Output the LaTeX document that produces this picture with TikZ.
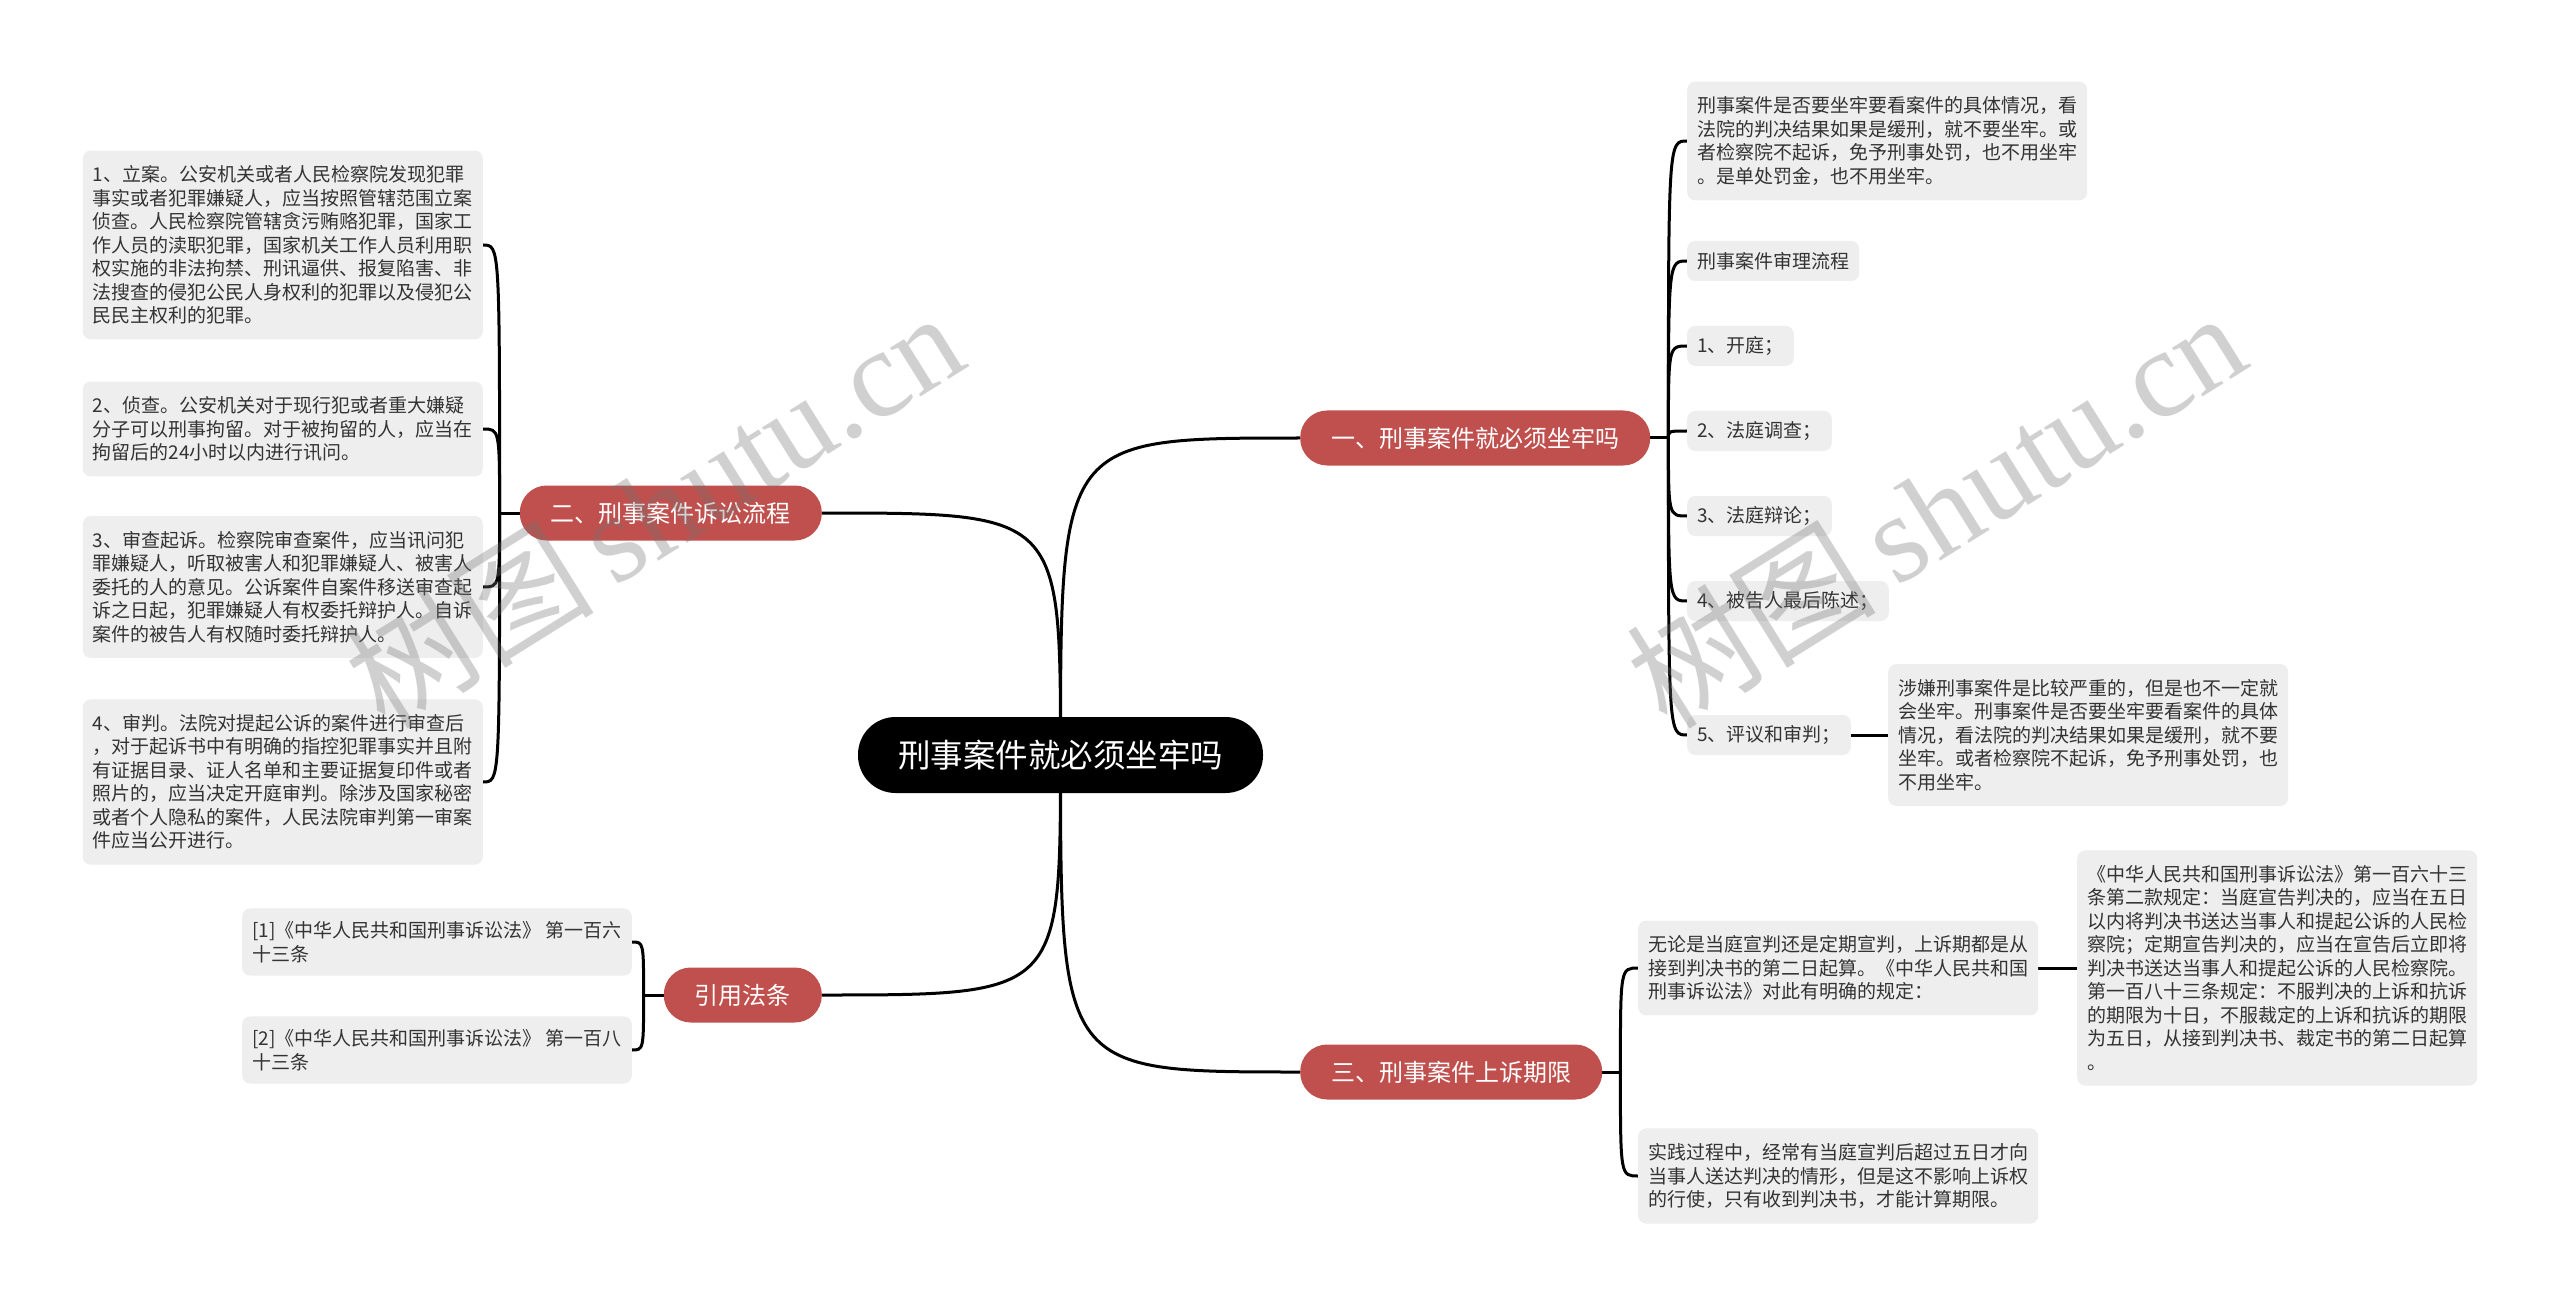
\documentclass[tikz,border=0pt]{standalone}
\usepackage{fontspec}
\setmainfont{Noto Sans CJK SC}
\newfontfamily\wmserif{Liberation Serif}
\usetikzlibrary{calc}
\pgfdeclarelayer{background}
\pgfdeclarelayer{foreground}
\pgfsetlayers{background,main,foreground}
\definecolor{branchred}{HTML}{C0504D}
\definecolor{leafgrey}{HTML}{EEEEEE}
\definecolor{leaftext}{HTML}{333333}
\tikzset{
  rootnode/.style={fill=black, text=white, rounded corners=37.5pt, minimum height=76pt,
    inner xsep=40pt, inner ysep=0pt, font=\fontsize{32.5}{38}\selectfont},
  branchnode/.style={fill=branchred, text=white, rounded corners=27pt, minimum height=55pt,
    inner xsep=31pt, inner ysep=0pt, font=\fontsize{24}{28}\selectfont},
  leafnode/.style={fill=leafgrey, text=leaftext, rounded corners=8pt, align=left,
    inner xsep=10pt, inner ysep=15pt, font=\fontsize{19}{23.5}\selectfont},
  leafone/.style={leafnode, inner ysep=0pt, minimum height=40pt},
  link/.style={draw=black, line width=3pt},
  wm/.style={text=black!55, opacity=0.33, font=\fontsize{125}{130}\selectfont}
}
\begin{document}
\begin{tikzpicture}[x=1pt,y=-1pt]
\useasboundingbox (0,0) rectangle (2560,1305);

% root and branches
\node[rootnode] (root) at (1060.5,755) {刑事案件就必须坐牢吗};
\node[branchnode, anchor=west] (b1) at (1300,438) {一、刑事案件就必须坐牢吗};
\node[branchnode, anchor=east] (b2) at (822,513) {二、刑事案件诉讼流程};
\node[branchnode, anchor=west] (b3) at (1300,1072) {三、刑事案件上诉期限};
\node[branchnode, anchor=east] (b4) at (822,995) {引用法条};

% branch 1 leaves
\node[leafnode, anchor=west] (r1) at (1687,141) {刑事案件是否要坐牢要看案件的具体情况，看\\法院的判决结果如果是缓刑，就不要坐牢。或\\者检察院不起诉，免予刑事处罚，也不用坐牢\\。是单处罚金，也不用坐牢。};
\node[leafone, anchor=west] (r2) at (1687,261) {刑事案件审理流程};
\node[leafone, anchor=west] (r3) at (1687,346) {1、开庭；};
\node[leafone, anchor=west] (r4) at (1687,431) {2、法庭调查；};
\node[leafone, anchor=west] (r5) at (1687,516) {3、法庭辩论；};
\node[leafone, anchor=west] (r6) at (1687,601) {4、被告人最后陈述；};
\node[leafone, anchor=west] (r7) at (1687,735) {5、评议和审判；};
\node[leafnode, anchor=west] (r8) at (1888,735) {涉嫌刑事案件是比较严重的，但是也不一定就\\会坐牢。刑事案件是否要坐牢要看案件的具体\\情况，看法院的判决结果如果是缓刑，就不要\\坐牢。或者检察院不起诉，免予刑事处罚，也\\不用坐牢。};

% branch 2 leaves
\node[leafnode, anchor=east] (l1) at (483,245) {1、立案。公安机关或者人民检察院发现犯罪\\事实或者犯罪嫌疑人，应当按照管辖范围立案\\侦查。人民检察院管辖贪污贿赂犯罪，国家工\\作人员的渎职犯罪，国家机关工作人员利用职\\权实施的非法拘禁、刑讯逼供、报复陷害、非\\法搜查的侵犯公民人身权利的犯罪以及侵犯公\\民民主权利的犯罪。};
\node[leafnode, anchor=east] (l2) at (483,429) {2、侦查。公安机关对于现行犯或者重大嫌疑\\分子可以刑事拘留。对于被拘留的人，应当在\\拘留后的24小时以内进行讯问。};
\node[leafnode, anchor=east] (l3) at (483,587) {3、审查起诉。检察院审查案件，应当讯问犯\\罪嫌疑人，听取被害人和犯罪嫌疑人、被害人\\委托的人的意见。公诉案件自案件移送审查起\\诉之日起，犯罪嫌疑人有权委托辩护人。自诉\\案件的被告人有权随时委托辩护人。};
\node[leafnode, anchor=east] (l4) at (483,782) {4、审判。法院对提起公诉的案件进行审查后\\，对于起诉书中有明确的指控犯罪事实并且附\\有证据目录、证人名单和主要证据复印件或者\\照片的，应当决定开庭审判。除涉及国家秘密\\或者个人隐私的案件，人民法院审判第一审案\\件应当公开进行。};

% branch 3 leaves
\node[leafnode, anchor=west] (t1) at (1638,968) {无论是当庭宣判还是定期宣判，上诉期都是从\\接到判决书的第二日起算。《中华人民共和国\\刑事诉讼法》对此有明确的规定：};
\node[leafnode, anchor=west] (t2) at (1638,1176) {实践过程中，经常有当庭宣判后超过五日才向\\当事人送达判决的情形，但是这不影响上诉权\\的行使，只有收到判决书，才能计算期限。};
\node[leafnode, anchor=west] (t3) at (2077,968) {《中华人民共和国刑事诉讼法》第一百六十三\\条第二款规定：当庭宣告判决的，应当在五日\\以内将判决书送达当事人和提起公诉的人民检\\察院；定期宣告判决的，应当在宣告后立即将\\判决书送达当事人和提起公诉的人民检察院。\\第一百八十三条规定：不服判决的上诉和抗诉\\的期限为十日，不服裁定的上诉和抗诉的期限\\为五日，从接到判决书、裁定书的第二日起算\\。};

% citations
\node[leafnode, anchor=east, inner ysep=13pt] (c1) at (632,942) {[1]《中华人民共和国刑事诉讼法》 第一百六\\十三条};
\node[leafnode, anchor=east, inner ysep=13pt] (c2) at (632,1050) {[2]《中华人民共和国刑事诉讼法》 第一百八\\十三条};

% junctions
\coordinate (j1) at ($(b1.east)+(18,0)$);
\coordinate (j2) at ($(b2.west)+(-20,0)$);
\coordinate (j3) at ($(b3.east)+(18,0)$);
\coordinate (j4) at ($(b4.west)+(-20,0)$);

\begin{pgfonlayer}{background}
  \fill[white] (0,0) rectangle (2560,1305);
  \draw[link] (root.center) .. controls (root.center |- b1.west) .. (b1.west);
  \draw[link] (root.center) .. controls (root.center |- b2.east) .. (b2.east);
  \draw[link] (root.center) .. controls (root.center |- b3.west) .. (b3.west);
  \draw[link] (root.center) .. controls (root.center |- b4.east) .. (b4.east);

  \draw[link] (b1.east) -- (j1);
  \foreach \c in {r1,r2,r3,r4,r5,r6,r7}
    \draw[link] (j1) .. controls (j1 |- \c.west) .. (\c.west);
  \draw[link] (r7.east) -- (r8.west);

  \draw[link] (b2.west) -- (j2);
  \foreach \c in {l1,l2,l3,l4}
    \draw[link] (j2) .. controls (j2 |- \c.east) .. (\c.east);

  \draw[link] (b3.east) -- (j3);
  \foreach \c in {t1,t2}
    \draw[link] (j3) .. controls (j3 |- \c.west) .. (\c.west);
  \draw[link] (t1.east) -- (t3.west);

  \draw[link] (b4.west) -- (j4);
  \foreach \c in {c1,c2}
    \draw[link] (j4) .. controls (j4 |- \c.east) .. (\c.east);
\end{pgfonlayer}

\begin{pgfonlayer}{foreground}
  \node[wm, rotate=32] (wm1) at (653,508) {树图\,{\wmserif shutu.cn}};
  \node[wm, rotate=32] (wm2) at (1935,508) {树图\,{\wmserif shutu.cn}};
\end{pgfonlayer}
\end{tikzpicture}
\end{document}
